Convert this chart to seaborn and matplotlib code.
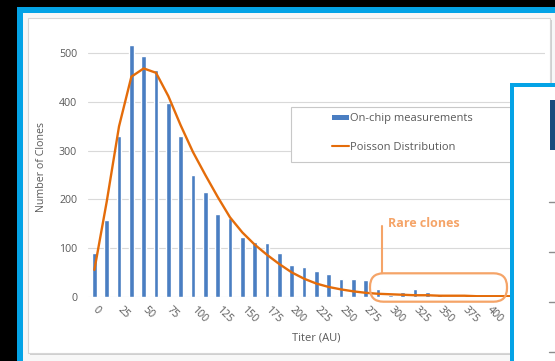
import matplotlib
matplotlib.use("Agg")
import matplotlib.pyplot as plt
import seaborn as sns
from matplotlib.patches import Rectangle, FancyBboxPatch
from matplotlib.lines import Line2D
from matplotlib.transforms import IdentityTransform

# ---------------- data ----------------
titer = [0, 12.5, 25, 37.5, 50, 62.5, 75, 87.5, 100, 112.5, 125, 137.5, 150,
         162.5, 175, 187.5, 200, 212.5, 225, 237.5, 250, 262.5, 275, 287.5,
         300, 312.5, 325, 337.5, 350, 362.5, 375, 387.5, 400, 412.5, 425,
         437.5, 450]
counts = [90, 157, 330, 517, 494, 466, 397, 331, 251, 216, 170, 161, 122,
          113, 111, 90, 66, 60, 52, 46, 36, 36, 34, 16,
          3, 10, 16, 10, 5, 1, 2, 2, 1, 0, 0,
          0, 0]
poisson = [55, 195, 350, 452, 469, 460, 412, 352, 297, 250, 205, 163, 132,
           107, 86, 67, 50, 37, 27, 20, 15, 11, 8, 6,
           5, 4, 3, 3, 2, 2, 2, 1, 1, 1, 1,
           1, 1]
tick_values = [0, 25, 50, 75, 100, 125, 150, 175, 200, 225, 250, 275, 300,
               325, 350, 375, 400]
tick_labels = ["0", "25", "50", "75", "100", "125", "150", "175", "200", "225",
               "250", "275", "300", "325", "350", "375", "400"]
y_ticks = [0, 100, 200, 300, 400, 500]
series_names = ["On-chip measurements", "Poisson Distribution"]
annotation = "Rare clones"

# ---------------- style ----------------
BLUE = "#4A7EC2"
ORANGE = "#E46C0A"
PILL = "#F5A468"
FRAME = "#04A3E6"
TXT = "#595959"
FS = 7.7

W, H = 555, 361
sns.set_theme(style="white")
plt.rcParams['font.family'] = ['Open Sans', 'DejaVu Sans']

fig = plt.figure(figsize=(W / 100, H / 100), dpi=100)
fig.patch.set_facecolor("black")


def fx(x):
    return x / W


def fy(y):
    return 1 - y / H


def frect(x0, y0, x1, y1, z, **kw):
    r = Rectangle((fx(x0), fy(y1)), fx(x1) - fx(x0), fy(y0) - fy(y1),
                  transform=fig.transFigure, zorder=z, **kw)
    fig.add_artist(r)
    return r


# screenshot background frame and chart panel
frect(17, 7, 570, 380, -10, facecolor=FRAME, lw=0)
frect(23, 13, 570, 380, -9, facecolor="#F7F7F7", lw=0)
frect(29.5, 19.5, 551.5, 355, -8.5, facecolor="#CFCFCF", lw=0)
frect(28, 18, 550, 353, -8, facecolor="white", edgecolor="#D6D6D6", lw=0.8)

# axes
x_left, x_right = 88.2, 544.5
y_bot, y_top = 296.7, 36.3
ax = fig.add_axes([fx(x_left), fy(y_bot), fx(x_right) - fx(x_left),
                   fy(y_top) - fy(y_bot)])
ax.patch.set_visible(False)

sns.barplot(x=titer, y=counts, native_scale=True, width=0.36, color=BLUE,
            saturation=1, errorbar=None, ax=ax, zorder=3)
sns.lineplot(x=titer, y=poisson, color=ORANGE, lw=1.7, ax=ax, zorder=4)

ax.set_xlim(-6.25, 456.25)
ax.set_ylim(0, 535)
ax.set_yticks(y_ticks)
ax.set_yticklabels([str(v) for v in y_ticks], fontsize=FS, color=TXT)
ax.set_xticks(tick_values)
ax.set_xticklabels(tick_labels, rotation=-45, ha="left", va="center",
                   rotation_mode="anchor", fontsize=FS, color=TXT)
ax.tick_params(axis="y", length=0, pad=8)
ax.tick_params(axis="x", length=0, pad=8)
ax.yaxis.grid(True, color="#D9D9D9", lw=0.8)
ax.xaxis.grid(False)
ax.set_axisbelow(True)
for s in ax.spines.values():
    s.set_visible(False)

ax.set_ylabel("Number of Clones", fontsize=FS, color=TXT)
ax.yaxis.set_label_coords((47 - x_left) / (x_right - x_left), 0.5)
ax.set_xlabel("Titer (AU)", fontsize=8, color=TXT)
ax.xaxis.label.set_va("center")
ax.xaxis.set_label_coords(0.5, (y_bot - 338) / (y_bot - y_top))

# legend box
lb = Rectangle((fx(292.5), fy(163.2)), fx(527) - fx(292.5), fy(108.8) - fy(163.2),
               transform=fig.transFigure, facecolor="#BDBDBD", lw=0,
               zorder=4.4, clip_on=False)
ax.add_patch(lb)
lb2 = Rectangle((fx(291), fy(161.7)), fx(525) - fx(291), fy(107.3) - fy(161.7),
                transform=fig.transFigure, facecolor="white",
                edgecolor="#C8C8C8", lw=0.8, zorder=4.5, clip_on=False)
ax.add_patch(lb2)
handles = [Rectangle((0, 0), 1, 1, facecolor=BLUE, lw=0),
           Line2D([], [], color=ORANGE, lw=1.5)]
leg = ax.legend(handles, series_names, loc="upper left",
                bbox_to_anchor=(fx(331.7), fy(113.5)),
                bbox_transform=fig.transFigure, frameon=False, fontsize=8,
                handlelength=1.55, handleheight=0.35, handletextpad=0.12,
                labelspacing=1.55, borderpad=0, borderaxespad=0)
for t in leg.get_texts():
    t.set_color(TXT)

# rare clones annotation
pill = FancyBboxPatch((370, H - 301.7), 137, 28.4,
                      boxstyle="round,pad=0,rounding_size=13.5",
                      transform=IdentityTransform(), fill=False,
                      edgecolor=PILL, lw=1.6, zorder=6, clip_on=False)
ax.add_patch(pill)
ax.add_line(Line2D([381.5, 381.5], [H - 225.5, H - 273.3], color=PILL, lw=1.5,
                   transform=IdentityTransform(), zorder=6, clip_on=False))
fig.text(fx(388.5), fy(223.3), annotation, ha="left", va="center", fontsize=9,
         fontweight="bold", color=PILL)

# overlapping panel at right
frect(510, 82.7, 570, 380, 10, facecolor=FRAME, lw=0)
frect(514.3, 86.7, 570, 380, 10.1, facecolor="white", lw=0)
frect(550, 100, 560, 150, 10.2, facecolor="#174A7C", lw=0)
for yy in [201.7, 251.7, 301.7, 351.7]:
    fig.add_artist(Line2D([fx(549), fx(556)], [fy(yy), fy(yy)], color="#8C8C8C",
                          lw=1, transform=fig.transFigure, zorder=10.3))

fig.savefig("out.png", dpi=100, facecolor=fig.get_facecolor())
